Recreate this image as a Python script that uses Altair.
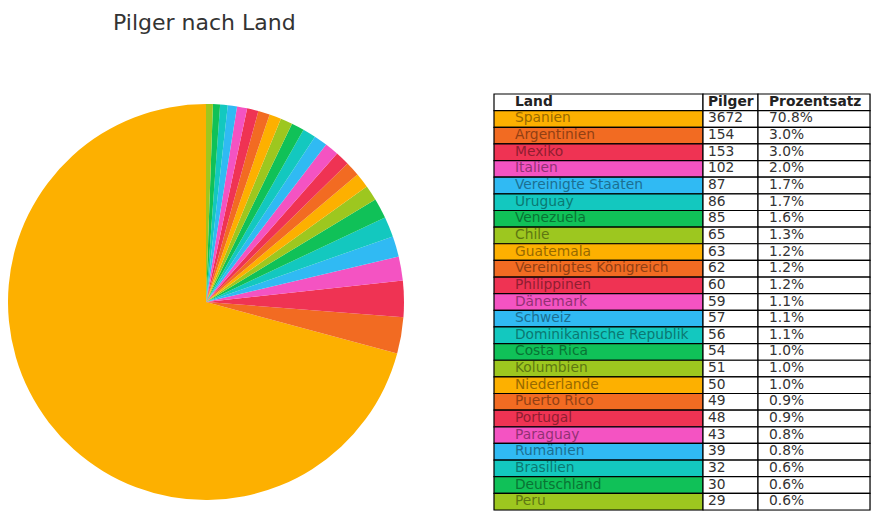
import math
import altair as alt
import pandas as pd

countries = [
    "Spanien", "Argentinien", "Mexiko", "Italien", "Vereinigte Staaten", "Uruguay",
    "Venezuela", "Chile", "Guatemala", "Vereinigtes Königreich", "Philippinen",
    "Dänemark", "Schweiz", "Dominikanische Republik", "Costa Rica", "Kolumbien",
    "Niederlande", "Puerto Rico", "Portugal", "Paraguay", "Rumänien", "Brasilien",
    "Deutschland", "Peru",
]
pilgrims = [3672, 154, 153, 102, 87, 86, 85, 65, 63, 62, 60, 59, 57, 56, 54, 51,
            50, 49, 48, 43, 39, 32, 30, 29]
percent_labels = ["70.8%", "3.0%", "3.0%", "2.0%", "1.7%", "1.7%", "1.6%", "1.3%",
                  "1.2%", "1.2%", "1.2%", "1.1%", "1.1%", "1.1%", "1.0%", "1.0%",
                  "1.0%", "0.9%", "0.9%", "0.8%", "0.8%", "0.6%", "0.6%", "0.6%"]
headers = ["Land", "Pilger", "Prozentsatz"]
palette = ["#FDB000", "#F26B22", "#EF3353", "#F453C2", "#30BAF3", "#13C8BF",
           "#10C158", "#9DC71F"]

FONT = "DejaVu Sans"


def darken(hex_color, f=0.6):
    r, g, b = (int(hex_color[i:i + 2], 16) for i in (1, 3, 5))
    return "#%02x%02x%02x" % (int(r * f), int(g * f), int(b * f))


colors = [palette[i % len(palette)] for i in range(len(countries))]
total = sum(pilgrims)

pie_df = pd.DataFrame({
    "Land": countries,
    "Pilger": pilgrims,
    "idx": list(range(len(countries))),
    "color": colors,
})

pie = alt.Chart(pie_df).mark_arc(outerRadius=198).encode(
    theta=alt.Theta("Pilger:Q", stack=True,
                    scale=alt.Scale(domain=[0, total], range=[2 * math.pi, 0])),
    color=alt.Color("color:N", scale=None),
    order=alt.Order("idx:Q", sort="ascending"),
).properties(width=396, height=416)

# table layout (column edges and text offsets in table-view pixels)
col_edges = [0, 209, 264, 376]
text_x = [21, 214, 275]

cells = []
for c in range(3):
    cells.append({"row": 0, "x0": col_edges[c], "x1": col_edges[c + 1],
                  "tx": text_x[c], "text": headers[c], "fill": "#ffffff",
                  "tcolor": "#222222", "header": 1})
for i, name in enumerate(countries):
    vals = [name, str(pilgrims[i]), percent_labels[i]]
    for c in range(3):
        cells.append({
            "row": i + 1, "x0": col_edges[c], "x1": col_edges[c + 1],
            "tx": text_x[c], "text": vals[c],
            "fill": colors[i] if c == 0 else "#ffffff",
            "tcolor": darken(colors[i]) if c == 0 else "#333333",
            "header": 0,
        })
tab_df = pd.DataFrame(cells)

xs = alt.Scale(domain=[0, 376], nice=False, zero=False)
ys = alt.Scale(paddingInner=0, paddingOuter=0)

base = alt.Chart(tab_df).properties(width=376, height=416)

rects = base.mark_rect(stroke="#000000", strokeWidth=1.2).encode(
    x=alt.X("x0:Q", scale=xs, axis=None),
    x2="x1:Q",
    y=alt.Y("row:O", scale=ys, axis=None),
    fill=alt.Fill("fill:N", scale=None),
)

body_text = base.transform_filter("datum.header == 0").mark_text(
    align="left", baseline="middle", font=FONT, fontSize=13.8, dy=-0.5
).encode(
    x=alt.X("tx:Q", scale=xs, axis=None),
    y=alt.Y("row:O", scale=ys, axis=None),
    text="text:N",
    color=alt.Color("tcolor:N", scale=None),
)

head_text = base.transform_filter("datum.header == 1").mark_text(
    align="left", baseline="middle", font=FONT, fontSize=13.8, fontWeight="bold", dy=-0.5
).encode(
    x=alt.X("tx:Q", scale=xs, axis=None),
    y=alt.Y("row:O", scale=ys, axis=None),
    text="text:N",
    color=alt.Color("tcolor:N", scale=None),
)

table = alt.layer(rects, body_text, head_text)

chart = alt.hconcat(pie, table, spacing=88).properties(
    padding={"top": 3, "left": 0, "right": 0, "bottom": 0},
    title=alt.TitleParams("Pilger nach Land", anchor="start", dx=105, fontSize=22,
                          font=FONT, fontWeight="normal", color="#333333",
                          offset=58),
).configure_view(stroke=None).configure(background="#ffffff")

chart.save("out.html", embed_options={"renderer": "svg", "actions": False})
